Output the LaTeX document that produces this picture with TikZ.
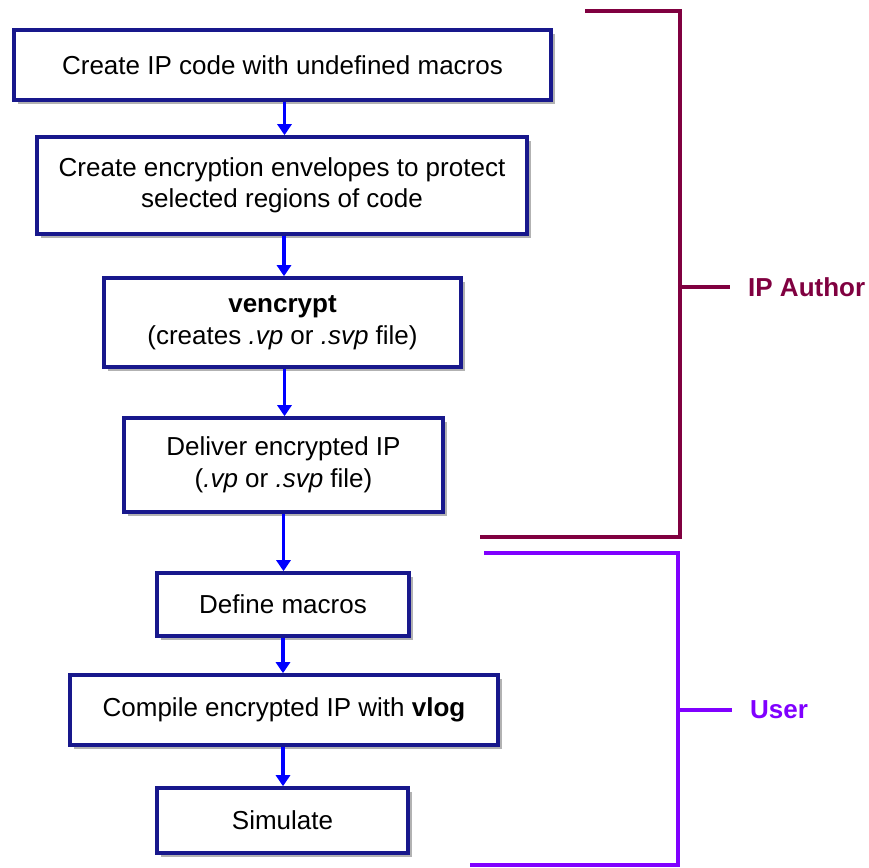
\documentclass[tikz,border=0pt]{standalone}
\usepackage{fontspec}
\setmainfont{Liberation Sans}
\usetikzlibrary{arrows.meta, shadows}
\definecolor{boxnavy}{RGB}{24, 24, 140}
\definecolor{flowblue}{RGB}{0, 0, 255}
\definecolor{authormaroon}{RGB}{128, 0, 64}
\definecolor{userpurple}{RGB}{128, 0, 255}

\begin{document}
\begin{tikzpicture}[x=1pt, y=1pt,
    stepbox/.style={draw=boxnavy, line width=3.6pt, fill=white, inner sep=0pt, align=center,
        font=\fontsize{26}{31.5}\selectfont,
        drop shadow={shadow xshift=4pt, shadow yshift=-4pt, fill=black, opacity=0.3}},
    flow/.style={draw=flowblue, line width=3.6pt, -{Triangle[length=11pt, width=14pt]}},
    bracket/.style={line width=3.2pt},
    rolelabel/.style={anchor=west, inner sep=0pt, font=\fontsize{26}{30}\selectfont\bfseries}]
    \useasboundingbox (0,0) rectangle (869,-867);

    % IP author steps
    \node[stepbox, minimum width=537pt, minimum height=70pt] (create) at (282.5,-65)
        {Create IP code with undefined macros};
    \node[stepbox, minimum width=490pt, minimum height=97pt] (envelope) at (282,-185.5)
        {Create encryption envelopes to protect\\selected regions of code};
    \node[stepbox, minimum width=357pt, minimum height=89pt] (vencrypt) at (282.5,-322.5)
        {\textbf{vencrypt}\\(creates \textit{.vp} or \textit{.svp} file)};
    \node[stepbox, minimum width=319pt, minimum height=94pt] (deliver) at (283.5,-465)
        {Deliver encrypted IP\\(\textit{.vp} or \textit{.svp} file)};

    % user steps
    \node[stepbox, minimum width=252pt, minimum height=63pt] (define) at (283,-604.5)
        {Define macros};
    \node[stepbox, minimum width=428pt, minimum height=70pt] (compile) at (284,-710)
        {Compile encrypted IP with \textbf{vlog}};
    \node[stepbox, minimum width=251pt, minimum height=65pt] (simulate) at (282.5,-820.5)
        {Simulate};

    \draw[flow] ([xshift=2pt]create.south) -- ([xshift=2pt]create.south |- envelope.north);
    \draw[flow] ([xshift=2pt]envelope.south) -- ([xshift=2pt]envelope.south |- vencrypt.north);
    \draw[flow] ([xshift=2pt]vencrypt.south) -- ([xshift=2pt]vencrypt.south |- deliver.north);
    \draw[flow] (deliver.south) -- (deliver.south |- define.north);
    \draw[flow] (define.south) -- (define.south |- compile.north);
    \draw[flow] (define.south |- compile.south) -- (define.south |- simulate.north);

    % brackets
    \node[rolelabel, text=authormaroon] (author) at (748,-287) {IP Author};
    \node[rolelabel, text=userpurple] (user) at (750,-710) {User};
    \coordinate (authortick) at (680,-287);
    \coordinate (usertick) at (678,-710);
    \draw[bracket, authormaroon] (585,-11) -- (680,-11) -- (680,-537) -- (480,-537);
    \draw[bracket, authormaroon] (authortick) -- ([xshift=-18pt]author.west);
    \draw[bracket, userpurple] (484,-553) -- (678,-553) -- (678,-865) -- (470,-865);
    \draw[bracket, userpurple] (usertick) -- ([xshift=-18pt]user.west);
\end{tikzpicture}
\end{document}
